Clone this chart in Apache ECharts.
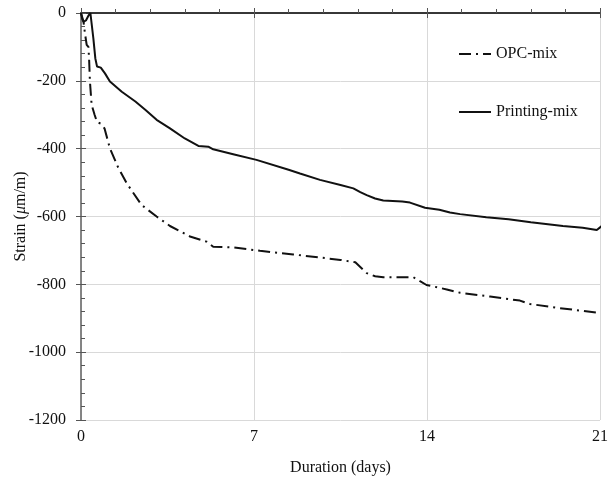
<!DOCTYPE html>
<html>
<head>
<meta charset="utf-8">
<script src="https://cdn.jsdelivr.net/npm/echarts@6/dist/echarts.min.js"></script>
<style>html,body{margin:0;padding:0;background:#fff}#c{width:612px;height:482px}</style>
</head>
<body>
<div id="c"></div>
<script>
const xTicks = [0, 7, 14, 21];
const yTicks = [0, -200, -400, -600, -800, -1000, -1200];

const opcDays = [0, 0.1, 0.16, 0.23, 0.3, 0.33, 0.36, 0.43, 0.55, 0.65, 0.8, 0.95, 1.17, 1.5, 1.85, 2.45, 3.06, 3.6, 4.41, 5.08, 5.35, 6.16, 7.24, 8.59, 9.67, 10.5, 11.1, 11.56, 11.9, 12.23, 13.45, 13.7, 13.98, 14.8, 15.34, 16.55, 17.76, 18.17, 19.25, 20.86];
const opcStrain = [0, -25, -60, -94, -100, -140, -200, -271, -300, -322, -326, -340, -399, -455, -502, -566, -600, -628, -659, -674, -689, -691, -701, -712, -721, -728, -735, -767, -776, -779, -779, -790, -802, -815, -825, -836, -848, -858, -869, -883];

const printDays = [0, 0.05, 0.1, 0.2, 0.3, 0.38, 0.42, 0.5, 0.58, 0.65, 0.8, 0.97, 1.17, 1.65, 2.2, 2.6, 3.06, 3.6, 4.2, 4.75, 5.15, 5.35, 6.2, 7.1, 8.4, 8.86, 9.67, 10.5, 11.02, 11.3, 11.56, 11.9, 12.23, 13.0, 13.31, 13.92, 14.5, 14.93, 15.34, 16.4, 17.3, 18.2, 19.5, 20.3, 20.87, 21.07];
const printStrain = [0, -18, -26, -22, -8, 0, 0, -75, -134, -158, -161, -178, -202, -232, -261, -285, -315, -340, -370, -392, -394, -402, -417, -433, -462, -473, -492, -507, -517, -528, -537, -547, -553, -556, -559, -574, -580, -588, -593, -602, -608, -617, -628, -633, -640, -628];

const zip = (a, b) => a.map((v, i) => [v, b[i]]);
const font = 'Liberation Serif, Times New Roman, serif';

const chart = echarts.init(document.getElementById('c'));
const axisCol = '#555';
chart.setOption({
  animation: false,
  grid: { left: 81, right: 12, top: 13, bottom: 62, containLabel: false, outerBoundsMode: 'none' },
  legend: {
    orient: 'vertical', left: 453, top: 41, itemGap: 42, itemWidth: 32, itemHeight: 12,
    itemStyle: { opacity: 0 },
    textStyle: { fontFamily: font, fontSize: 16, color: '#111' },
    data: ['OPC-mix', 'Printing-mix']
  },
  xAxis: [
    {
      type: 'value', min: xTicks[0], max: xTicks[xTicks.length - 1], interval: 7, position: 'bottom',
      name: 'Duration (days)', nameLocation: 'middle', nameGap: 40, nameMoveOverlap: false,
      nameTextStyle: { fontFamily: font, fontSize: 16, color: '#111' },
      axisLine: { show: true, lineStyle: { color: axisCol, width: 1.5 } },
      axisTick: { show: true, inside: false, length: 5, lineStyle: { color: axisCol } },
      axisLabel: { fontFamily: font, fontSize: 16, color: '#111', margin: 9 },
      splitLine: { show: true, lineStyle: { color: '#d9d9d9', width: 1 } }
    },
    {
      type: 'value', min: 0, max: 21, interval: 7, position: 'bottom',
      axisLine: { show: false },
      axisTick: { show: true, inside: true, length: 5, lineStyle: { color: axisCol } },
      minorTick: { show: true, splitNumber: 5, length: 4, lineStyle: { color: axisCol } },
      axisLabel: { show: false }, splitLine: { show: false }
    },
    {
      type: 'value', min: 0, max: 21, position: 'top',
      axisLine: { show: true, lineStyle: { color: '#222', width: 1.5 } },
      axisTick: { show: false }, axisLabel: { show: false }, splitLine: { show: false }
    }
  ],
  yAxis: [
    {
      type: 'value', min: yTicks[yTicks.length - 1], max: yTicks[0], interval: 200, position: 'left',
      name: 'Strain ({i|μ}m/m)', nameLocation: 'middle', nameGap: 52, nameRotate: 90, nameMoveOverlap: false,
      nameTextStyle: { fontFamily: font, fontSize: 16, color: '#111',
        rich: { i: { fontFamily: font, fontSize: 16, fontStyle: 'italic', color: '#111' } } },
      axisLine: { show: true, lineStyle: { color: axisCol, width: 1.5 } },
      axisTick: { show: true, inside: false, length: 5, lineStyle: { color: axisCol } },
      axisLabel: { fontFamily: font, fontSize: 16, color: '#111', margin: 15, formatter: v => String(v) },
      splitLine: { show: true, lineStyle: { color: '#d9d9d9', width: 1 } }
    },
    {
      type: 'value', min: -1200, max: 0, interval: 200, position: 'left',
      axisLine: { show: false },
      axisTick: { show: true, inside: true, length: 5, lineStyle: { color: axisCol } },
      minorTick: { show: true, splitNumber: 5, length: 4, lineStyle: { color: axisCol } },
      axisLabel: { show: false }, splitLine: { show: false }
    },
    {
      type: 'value', min: -1200, max: 0, position: 'right',
      axisLine: { show: true, lineStyle: { color: '#888', width: 1.5 } },
      axisTick: { show: false }, axisLabel: { show: false }, splitLine: { show: false }
    }
  ],
  series: [
    {
      name: 'OPC-mix', type: 'line', data: zip(opcDays, opcStrain), showSymbol: false, symbol: 'none',
      lineStyle: { color: '#111', width: 2, type: [12, 5, 2, 5] }, itemStyle: { color: '#111' }
    },
    {
      name: 'Printing-mix', type: 'line', data: zip(printDays, printStrain), showSymbol: false, symbol: 'none',
      lineStyle: { color: '#111', width: 2 }, itemStyle: { color: '#111' }
    }
  ]
});
</script>
</body>
</html>
